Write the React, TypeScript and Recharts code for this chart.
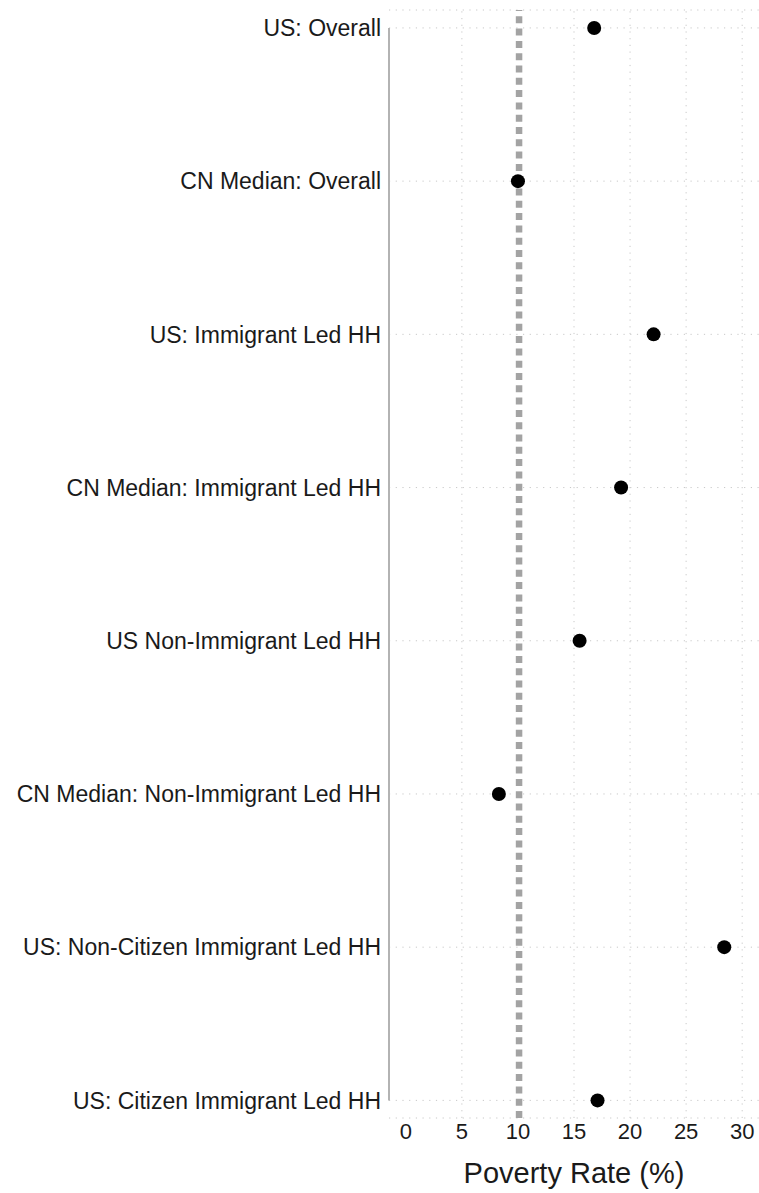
import React from 'react';
import {
  ScatterChart,
  Scatter,
  XAxis,
  YAxis,
  CartesianGrid,
  ReferenceLine,
} from 'recharts';

const groups = [
  'US: Overall',
  'CN Median: Overall',
  'US: Immigrant Led HH',
  'CN Median: Immigrant Led HH',
  'US Non-Immigrant Led HH',
  'CN Median: Non-Immigrant Led HH',
  'US: Non-Citizen Immigrant Led HH',
  'US: Citizen Immigrant Led HH',
];
const povertyRates = [16.8, 10.0, 22.1, 19.2, 15.5, 8.3, 28.4, 17.1];
const xTicks = [0, 5, 10, 15, 20, 25, 30];
const gridValues = [5, 15, 20, 25, 30];
const medianLine = 10.1;

const rows = groups.map((name, i) => ({ idx: i, rate: povertyRates[i], name }));
const yTicks = groups.map((_, i) => i);

const font = '"Liberation Sans", Arial, sans-serif';

// ggplot-style fat dot
const Dot = (props: any) => <circle cx={props.cx} cy={props.cy} r={7} fill="#000000" />;

export default function App() {
  return (
    <div style={{ position: 'absolute', left: 0, top: 0, fontFamily: font }}>
      <ScatterChart width={759} height={1193} margin={{ top: 10, right: 0, bottom: 0, left: 9 }}>
        <CartesianGrid vertical={false} stroke="#c8c8c8" strokeDasharray="1.2 5.5" />
        {gridValues.map((v) => (
          <ReferenceLine key={v} x={v} stroke="#c8c8c8" strokeDasharray="1.2 5.5" />
        ))}
        <ReferenceLine x={medianLine} stroke="#a3a3a3" strokeWidth={6.5} strokeDasharray="7 5.3" />
        <ReferenceLine
          segment={[
            { x: -1.5, y: 0 },
            { x: -1.5, y: groups.length - 1 },
          ]}
          stroke="#b3b3b3"
          strokeWidth={2}
        />
        <XAxis
          type="number"
          dataKey="rate"
          domain={[-1.5, 31.5]}
          ticks={xTicks}
          axisLine={false}
          tickLine={false}
          tickSize={3}
          tickMargin={2}
          height={75}
          tick={{ fill: '#1a1a1a', fontSize: 22, fontFamily: font }}
          label={{
            value: 'Poverty Rate (%)',
            position: 'insideBottom',
            offset: 10,
            fill: '#1a1a1a',
            fontSize: 29,
            fontFamily: font,
          }}
        />
        <YAxis
          type="number"
          dataKey="idx"
          reversed
          domain={[-0.117, 7.115]}
          ticks={yTicks}
          interval={0}
          width={380}
          axisLine={false}
          tickLine={false}
          tickFormatter={(v: number) => groups[v]}
          tick={{ fill: '#1a1a1a', fontSize: 23, fontFamily: font }}
        />
        <Scatter data={rows} fill="#000000" shape={Dot} isAnimationActive={false} />
      </ScatterChart>
    </div>
  );
}
